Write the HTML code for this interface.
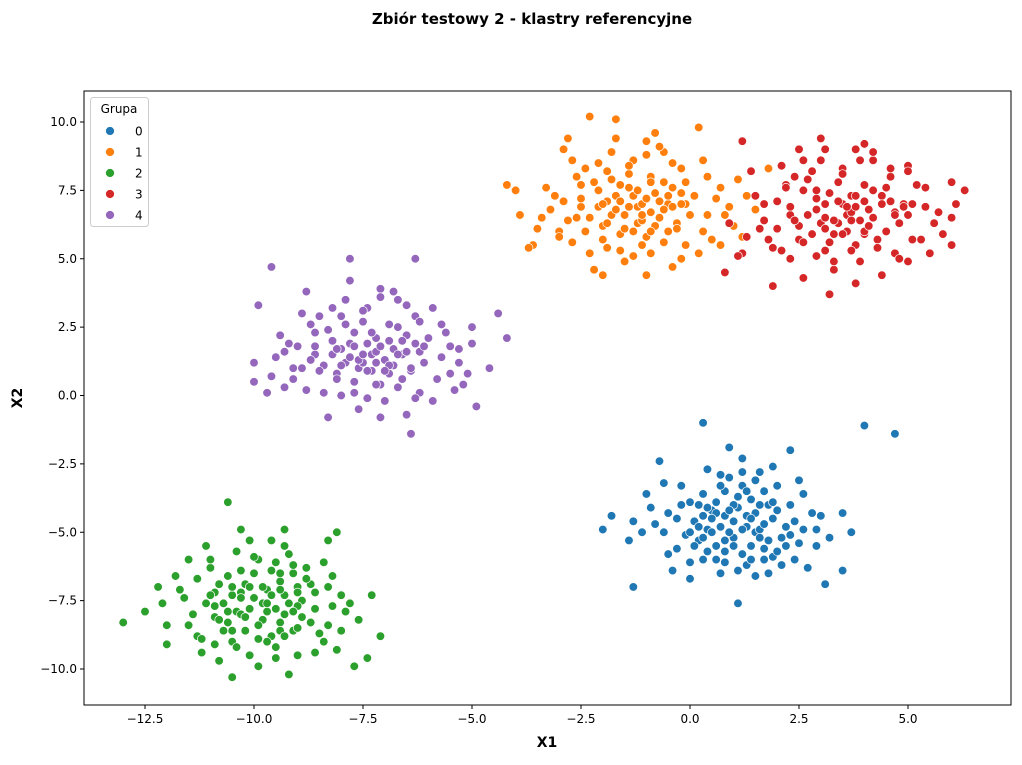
<!DOCTYPE html>
<html><head><meta charset="utf-8"><style>
body{margin:0;background:#fff;font-family:"Liberation Sans","DejaVu Sans",sans-serif}
svg text{font-family:"DejaVu Sans","Liberation Sans",sans-serif}
</style></head><body>
<svg id="chart" width="1022" height="760">
<text x="532" y="24" text-anchor="middle" font-size="15" font-weight="bold">Zbiór testowy 2 - klastry referencyjne</text>
<g id="plot"></g>
</svg>
<script>
const groups=['0','1','2','3','4'];
const colors=['#1f77b4','#ff7f0e','#2ca02c','#d62728','#9467bd'];
const xTicks=[-12.5,-10,-7.5,-5,-2.5,0,2.5,5];
const yTicks=[-10,-7.5,-5,-2.5,0,2.5,5,7.5,10];
const g0=[[1.0,-4.6],[0.5,-4.2],[1.5,-5.0],[0.2,-5.3],[1.8,-4.0],[0.8,-3.5],[1.2,-5.8],[-0.3,-4.5],[2.2,-4.8],[0.6,-5.5],[1.4,-3.8],[0.0,-3.9],[2.5,-5.4],[-0.6,-5.0],[1.1,-4.1],[0.4,-4.9],[1.7,-5.6],[0.9,-3.0],[2.8,-4.3],[-0.9,-4.1],[1.3,-6.2],[0.3,-6.0],[2.0,-3.3],[-0.2,-3.3],[3.2,-5.2],[-1.3,-4.6],[1.6,-2.8],[0.7,-6.5],[2.4,-6.0],[-0.5,-5.8],[1.9,-4.5],[0.1,-4.6],[1.0,-5.2],[1.5,-4.3],[0.6,-3.9],[2.9,-4.9],[-1.0,-3.6],[1.2,-2.3],[0.4,-2.7],[3.5,-4.3],[-1.8,-4.4],[2.6,-3.6],[1.8,-6.5],[0.0,-6.7],[3.1,-6.9],[-1.3,-7.0],[1.1,-7.6],[0.3,-1.0],[4.0,-1.1],[4.7,-1.4],[-2.0,-4.9],[3.7,-5.0],[0.9,-1.9],[2.3,-2.0],[-0.7,-2.4],[1.4,-5.5],[0.8,-4.4],[2.1,-5.2],[1.7,-3.5],[0.2,-4.0],[-0.4,-6.4],[2.7,-6.3],[3.5,-6.4],[1.3,-4.8],[0.5,-5.0],[-1.4,-5.3],[1.9,-5.9],[0.8,-5.7],[2.3,-4.0],[-0.1,-5.1],[1.0,-4.0],[1.6,-4.9],[0.3,-4.4],[1.2,-3.3],[0.7,-4.8],[2.0,-5.7],
[0.2,-4.8],[0.6,-4.3],[1.3,-4.4],[1.7,-4.7],[0.9,-5.0],[0.4,-5.7],[1.1,-3.7],[1.6,-5.2],[2.0,-4.2],[0.0,-5.0],[0.7,-3.3],[1.4,-6.0],[2.4,-4.6],[-0.5,-4.3],[1.0,-5.5],[0.3,-3.6],[1.9,-3.9],[0.8,-6.1],[2.2,-5.5],[-0.2,-4.0],[1.5,-3.1],[0.5,-4.5],[1.2,-4.9],[1.8,-5.3],[0.1,-5.5],[2.6,-4.9],[-0.8,-4.7],[1.3,-3.5],[0.6,-6.0],[2.1,-6.2],[0.9,-4.2],[1.6,-4.0],[0.3,-5.2],[1.1,-6.4],[2.9,-5.5],[-0.3,-5.6],[0.7,-2.9],[1.9,-2.6],[-0.6,-3.2],[2.5,-3.1],[1.4,-4.5],[0.8,-5.3],[1.7,-6.0],[0.4,-4.1],[2.3,-5.1],[-1.1,-5.0],[3.0,-4.4],[1.2,-2.8],[0.0,-6.1],[1.5,-6.6]];
const g1=[[-1.2,6.9],[-1.7,7.3],[-0.7,6.5],[-2.0,6.2],[-0.4,7.6],[-1.4,8.1],[-1.0,5.8],[-2.5,6.9],[0.0,6.6],[-1.6,5.9],[-0.8,7.4],[-2.2,7.8],[0.3,6.0],[-2.8,6.4],[-1.1,7.0],[-1.8,6.6],[-0.5,6.0],[-1.3,8.6],[0.6,7.2],[-3.1,7.3],[-0.9,5.2],[-1.9,5.4],[-0.2,8.3],[-2.4,8.3],[1.0,6.2],[-3.5,6.1],[-0.6,8.9],[-1.5,4.9],[0.2,5.2],[-2.7,5.6],[-0.1,7.0],[-2.1,6.9],[-1.2,6.3],[-0.7,7.1],[-1.6,7.7],[0.8,6.6],[-3.3,7.6],[-1.0,9.3],[-1.8,8.9],[1.3,7.3],[-3.9,6.6],[0.4,8.0],[-0.4,4.7],[-2.2,4.6],[1.2,5.8],[-3.6,5.5],[-1.7,10.1],[-2.3,10.2],[-4.2,7.7],[1.8,8.3],[-2.9,9.0],[0.2,9.8],[-0.8,9.6],[-2.0,4.4],[-4.0,7.5],[-1.3,7.3],[-0.9,6.7],[-0.3,6.3],[-1.7,6.8],[-2.5,7.2],[-0.6,7.8],[0.7,5.5],[-3.7,5.4],[-1.0,4.4],[-0.1,5.5],[-2.6,8.0],[1.5,6.8],[-3.0,6.0],[-0.2,7.4],[-1.5,6.1],[-1.1,6.4],[-1.9,7.1],[-0.5,7.0],[-2.3,6.5],[-1.4,7.6],[-0.9,8.0],
[-1.0,7.2],[-1.5,6.6],[-0.6,6.8],[-2.0,7.0],[-1.3,6.0],[-0.9,7.8],[-1.8,7.9],[-0.3,6.1],[-2.4,6.0],[-1.1,5.5],[-0.4,8.5],[-2.1,8.5],[0.1,7.3],[-2.9,7.1],[-1.6,5.3],[-0.8,6.2],[-1.4,8.4],[-2.6,6.5],[0.4,6.6],[-0.1,7.8],[-1.9,6.3],[-1.2,7.5],[-0.6,5.6],[-2.3,5.2],[0.7,7.6],[-3.2,6.8],[-1.0,8.8],[-1.7,9.4],[-0.2,5.0],[-2.7,8.6],[-1.4,6.9],[-0.9,6.0],[-2.1,7.5],[-0.4,6.9],[0.9,6.9],[-3.4,6.5],[-1.3,5.1],[0.3,8.6],[-2.0,5.7],[-0.7,9.1],[-1.6,7.1],[-0.2,7.0],[-2.5,7.7],[0.5,5.7],[-3.0,5.8],[-1.1,6.6],[-0.5,7.3],[-1.9,8.2],[1.1,7.9],[-2.8,9.4]];
const g2=[[-9.8,-7.6],[-10.3,-7.2],[-9.3,-8.0],[-10.6,-8.3],[-9.0,-7.0],[-10.0,-6.5],[-9.6,-8.8],[-11.1,-7.6],[-8.6,-7.8],[-10.2,-8.6],[-9.4,-6.8],[-10.8,-6.9],[-8.3,-8.4],[-11.4,-8.0],[-9.7,-7.1],[-10.4,-7.9],[-9.1,-8.6],[-9.9,-6.0],[-8.0,-7.3],[-11.7,-7.1],[-9.5,-9.2],[-10.5,-9.0],[-8.8,-6.3],[-11.0,-6.3],[-7.6,-8.2],[-12.1,-7.6],[-9.2,-5.8],[-10.1,-9.5],[-8.4,-9.0],[-11.3,-8.8],[-8.9,-7.5],[-10.7,-7.6],[-9.8,-8.2],[-9.3,-7.3],[-10.2,-6.9],[-7.9,-7.9],[-11.8,-6.6],[-9.6,-5.3],[-10.4,-5.7],[-7.3,-7.3],[-12.5,-7.9],[-8.2,-6.6],[-9.0,-9.5],[-10.8,-9.7],[-7.7,-9.9],[-12.0,-9.1],[-10.5,-10.3],[-10.6,-3.9],[-13.0,-8.3],[-7.1,-8.8],[-11.5,-6.0],[-8.3,-5.3],[-9.3,-4.9],[-8.1,-5.0],[-11.1,-5.5],[-9.4,-8.3],[-10.0,-7.4],[-8.7,-8.3],[-9.1,-6.5],[-10.6,-7.9],[-11.2,-9.4],[-8.1,-9.3],[-7.4,-9.6],[-9.5,-7.8],[-10.3,-8.0],[-12.0,-8.4],[-9.2,-10.2],[-9.9,-8.9],[-8.7,-6.9],[-10.9,-8.1],[-9.7,-7.9],[-10.1,-7.0],[-9.0,-7.7],[-10.5,-7.3],[-9.4,-8.6],[-10.9,-7.2],
[-9.6,-7.3],[-10.1,-7.8],[-9.2,-7.6],[-10.5,-7.0],[-9.9,-8.4],[-9.4,-6.5],[-10.7,-8.6],[-8.9,-8.1],[-10.3,-6.4],[-9.7,-9.0],[-8.6,-7.2],[-11.0,-7.3],[-9.1,-6.2],[-10.4,-9.2],[-8.5,-8.7],[-11.3,-6.7],[-9.8,-7.0],[-10.2,-8.1],[-9.3,-8.8],[-10.9,-7.7],[-8.8,-6.7],[-10.0,-5.9],[-9.5,-9.6],[-11.5,-8.4],[-8.2,-7.7],[-9.0,-7.2],[-10.6,-6.6],[-9.3,-5.5],[-11.2,-8.9],[-8.4,-6.1],[-9.7,-7.6],[-10.3,-7.4],[-9.1,-7.9],[-10.8,-8.2],[-9.5,-6.1],[-8.0,-8.6],[-11.6,-7.4],[-9.9,-9.9],[-10.1,-5.3],[-8.6,-9.4],[-9.4,-7.1],[-10.5,-8.6],[-9.0,-8.5],[-11.0,-6.0],[-8.3,-7.0],[-12.2,-7.0],[-9.6,-6.4],[-10.9,-9.1],[-7.8,-7.6],[-10.3,-4.9]];
const g3=[[3.6,6.6],[3.1,7.0],[4.1,6.2],[2.8,5.9],[4.4,7.3],[3.4,7.8],[3.8,5.5],[2.3,6.6],[4.8,6.3],[3.2,5.6],[4.0,7.1],[2.6,7.5],[5.1,5.7],[2.0,6.1],[3.7,6.7],[3.0,6.3],[4.3,5.7],[3.5,8.3],[5.4,6.9],[1.7,7.0],[3.9,4.9],[2.9,5.1],[4.6,8.0],[2.4,8.0],[5.8,5.9],[1.3,5.8],[4.2,8.6],[3.3,4.6],[5.0,4.9],[2.1,5.3],[4.7,6.7],[2.7,6.6],[3.6,6.0],[4.1,6.8],[3.2,7.4],[5.6,6.3],[1.5,7.3],[3.8,9.0],[3.0,8.6],[6.1,7.0],[0.9,6.3],[5.2,7.7],[4.4,4.4],[2.6,4.3],[6.0,5.5],[1.2,5.2],[3.1,9.0],[2.5,9.0],[1.2,9.3],[6.3,7.5],[1.9,4.0],[5.0,8.4],[4.0,9.2],[3.2,3.7],[0.8,4.5],[3.5,7.0],[3.9,6.4],[4.5,6.0],[3.1,6.5],[2.3,6.9],[4.2,7.5],[5.5,5.2],[1.1,5.1],[3.8,4.1],[4.7,5.2],[2.2,7.7],[6.0,6.5],[1.8,5.7],[4.6,7.1],[3.3,5.9],[3.7,7.3],[4.0,5.9],[2.9,7.2],[3.4,6.3],[4.9,7.0],[2.5,6.2],
[3.8,6.9],[3.3,6.4],[4.2,6.5],[2.9,6.8],[3.5,5.9],[4.0,7.7],[2.7,7.9],[4.5,6.0],[2.5,5.7],[3.7,5.3],[4.6,8.3],[2.8,8.2],[5.1,7.0],[2.0,7.1],[3.1,5.3],[4.0,6.0],[3.5,8.1],[2.4,6.4],[5.0,6.6],[4.5,7.6],[3.1,6.1],[3.8,7.3],[4.3,5.4],[2.3,5.0],[5.4,7.6],[1.7,6.4],[3.9,8.6],[3.0,9.4],[4.8,5.0],[2.1,8.4],[3.6,6.9],[4.1,6.2],[2.9,7.5],[4.7,6.6],[5.7,6.7],[1.6,6.1],[3.3,4.9],[5.0,8.2],[2.6,5.6],[4.2,8.9],[3.4,7.1],[4.9,6.9],[2.2,7.6],[5.3,5.7],[1.9,5.4],[3.7,6.4],[4.4,7.0],[2.6,8.6],[6.0,7.8],[1.4,8.2]];
const g4=[[-7.3,1.5],[-7.8,1.9],[-6.8,1.1],[-8.1,0.8],[-6.5,2.2],[-7.5,2.7],[-7.1,0.4],[-8.6,1.5],[-6.1,1.2],[-7.7,0.5],[-6.9,2.0],[-8.3,2.4],[-5.8,0.6],[-8.9,1.0],[-7.2,1.6],[-7.9,1.2],[-6.6,0.6],[-7.4,3.2],[-5.5,1.8],[-9.2,1.9],[-7.0,-0.2],[-8.0,0.0],[-6.3,2.9],[-8.5,2.9],[-5.1,0.8],[-9.6,0.7],[-6.7,3.5],[-7.6,-0.5],[-5.9,-0.2],[-8.8,0.2],[-6.2,1.6],[-8.2,1.5],[-7.3,0.9],[-6.8,1.7],[-7.7,2.3],[-5.3,1.2],[-9.4,2.2],[-7.1,3.9],[-7.9,3.5],[-5.0,1.9],[-10.0,1.2],[-5.7,2.6],[-6.5,-0.7],[-8.3,-0.8],[-5.2,0.4],[-9.7,0.1],[-7.8,5.0],[-6.3,5.0],[-9.6,4.7],[-4.2,2.1],[-9.9,3.3],[-4.9,-0.4],[-6.4,-1.4],[-10.0,0.5],[-4.4,3.0],[-7.4,1.9],[-7.0,1.3],[-6.4,0.9],[-7.8,1.4],[-8.6,1.8],[-6.7,2.5],[-5.4,0.2],[-9.3,0.3],[-7.1,-0.8],[-6.2,0.1],[-8.7,2.6],[-4.6,1.0],[-9.1,1.0],[-6.3,1.9],[-7.6,1.0],[-7.2,2.1],[-6.9,0.8],[-8.0,1.7],[-7.5,1.2],[-6.6,1.5],[-8.4,1.1],
[-7.1,1.8],[-7.6,1.3],[-6.7,1.5],[-8.1,1.7],[-7.4,0.9],[-6.9,2.6],[-7.9,2.6],[-6.4,1.0],[-8.5,0.9],[-7.2,0.4],[-6.5,3.3],[-8.2,3.2],[-6.0,2.1],[-9.0,1.8],[-7.7,0.1],[-6.9,1.1],[-7.5,3.1],[-8.7,1.3],[-5.7,1.4],[-6.2,2.7],[-8.0,1.1],[-7.3,2.3],[-6.7,0.3],[-8.4,0.1],[-5.6,2.3],[-9.3,1.6],[-7.1,3.6],[-7.8,4.2],[-6.3,-0.1],[-8.9,3.0],[-7.5,1.5],[-7.0,0.9],[-8.2,2.0],[-6.5,1.6],[-5.3,1.7],[-9.5,1.4],[-7.4,-0.1],[-5.9,3.2],[-8.1,0.6],[-6.8,3.8],[-7.7,1.8],[-6.1,1.8],[-8.6,2.3],[-5.5,0.8],[-9.1,0.6],[-7.2,1.2],[-6.6,2.0],[-8.0,2.9],[-5.0,2.5],[-8.8,3.8]];
const series=[g0,g1,g2,g3,g4];

const NS='http://www.w3.org/2000/svg';
const L=84,R=1011,T=91,B=705;
const xS=v=>690+v*43.6;
const yS=v=>395.5-v*27.35;
const plot=document.getElementById('plot');
function mk(tag,attrs,parent){const e=document.createElementNS(NS,tag);for(const k in attrs)e.setAttribute(k,attrs[k]);(parent||plot).appendChild(e);return e;}
const fmt=v=>(v<0?'\u2212':'')+Math.abs(v).toFixed(1);

const marks=mk('g',{});


series.forEach((pts,si)=>{
  const gg=mk('g',{},marks);
  
  
  pts.forEach(p=>{
    const c=mk('circle',{cx:xS(p[0]),cy:yS(p[1]),r:4.3,fill:colors[si],stroke:'#fff','stroke-width':0.7},gg);
    
    
  });
});
const frame=mk('rect',{x:L,y:T,width:R-L,height:B-T,fill:'none',stroke:'#000','stroke-width':1});



xTicks.forEach(v=>{
  const x=xS(v);
  mk('line',{x1:x,x2:x,y1:B,y2:B+4,stroke:'#000'});
  const t=mk('text',{x:x,y:B+18,'text-anchor':'middle','font-size':12});
  t.textContent=fmt(v);
  
  
});
yTicks.forEach(v=>{
  const y=yS(v);
  mk('line',{x1:L-4,x2:L,y1:y,y2:y,stroke:'#000'});
  const t=mk('text',{x:L-7,y:y+4,'text-anchor':'end','font-size':12});
  t.textContent=fmt(v);
  
  
});
const xt=mk('text',{x:547,y:747,'text-anchor':'middle','font-size':14,'font-weight':'bold'});
xt.textContent='X1';


const yt=mk('text',{x:22,y:398,'text-anchor':'middle','font-size':14,'font-weight':'bold',transform:'rotate(-90 22 398)'});
yt.textContent='X2';



const lg=mk('g',{});


mk('rect',{x:90.5,y:97.5,width:58,height:129,rx:3,fill:'#fff','fill-opacity':0.8,stroke:'#ccc'},lg);
const lt=mk('text',{x:119,y:113,'text-anchor':'middle','font-size':12},lg);
lt.textContent='Grupa';


groups.forEach((gname,i)=>{
  const y=131+i*21;
  const e=mk('g',{},lg);
  
  
  mk('circle',{cx:110,cy:y,r:4.5,fill:colors[i],stroke:'#fff','stroke-width':0.7},e);
  const t=mk('text',{x:135,y:y+4.5,'font-size':12},e);
  t.textContent=gname;
});
</script>
</body></html>
